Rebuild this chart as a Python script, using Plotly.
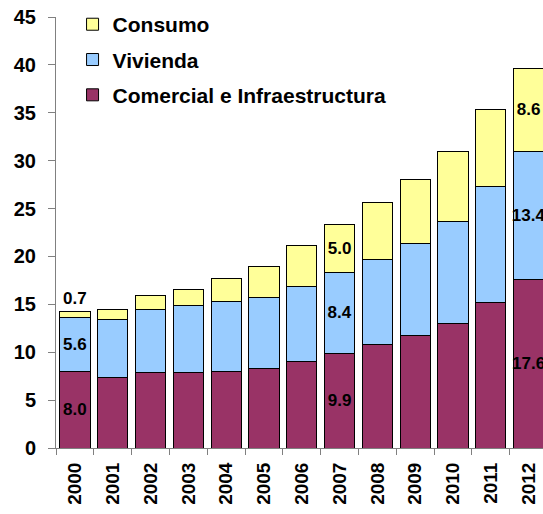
import plotly.graph_objects as go

# Years on the category axis
years = ["2000", "2001", "2002", "2003", "2004", "2005", "2006",
         "2007", "2008", "2009", "2010", "2011", "2012"]

# Stacked series values
comercial = [8.0, 7.4, 7.9, 7.9, 8.0, 8.3, 9.0, 9.9, 10.8, 11.7, 13.0, 15.2, 17.6]
vivienda = [5.6, 6.0, 6.6, 7.0, 7.3, 7.4, 7.9, 8.4, 8.9, 9.7, 10.6, 12.1, 13.4]
consumo = [0.7, 1.1, 1.4, 1.7, 2.4, 3.3, 4.2, 5.0, 5.9, 6.6, 7.4, 8.0, 8.6]

# Years whose segments carry a value label
labelled_years = ["2000", "2007", "2012"]

y_ticks = [0, 5, 10, 15, 20, 25, 30, 35, 40, 45]

FONT = "Liberation Sans, Arial, sans-serif"


def labels(values):
    return [f"{v:.1f}" if yr in labelled_years else "" for yr, v in zip(years, values)]


# (name, values, colour, legend rank) — stacked bottom to top, listed top to bottom
series = [
    ("Comercial e Infraestructura", comercial, "#993366", 3),
    ("Vivienda", vivienda, "#99CCFF", 2),
    ("Consumo", consumo, "#FFFF99", 1),
]

fig = go.Figure()
for name, vals, color, rank in series:
    text = labels(vals)
    if name == "Consumo":
        pos = ["outside" if yr == "2000" else "inside" for yr in years]
    else:
        pos = "inside"
    fig.add_trace(go.Bar(
        x=years, y=vals, name=name, legendgroup=name, legendrank=rank,
        marker=dict(color=color, line=dict(color="black", width=1)),
        text=text, textposition=pos, textangle=0,
        insidetextanchor="middle", constraintext="none",
        textfont=dict(family=FONT, size=17, color="black", weight="bold"),
        insidetextfont=dict(family=FONT, size=17, color="black", weight="bold"),
        outsidetextfont=dict(family=FONT, size=17, color="black", weight="bold"),
        cliponaxis=True,
        hoverinfo="skip",
    ))

fig.update_layout(
    width=543, height=514,
    barmode="stack", bargap=0.2,
    margin=dict(l=56, r=0, t=17, b=66),
    paper_bgcolor="white", plot_bgcolor="white",
    showlegend=True,
    legend=dict(
        x=0.034, y=1.03, xanchor="left", yanchor="top",
        traceorder="grouped", tracegroupgap=5,
        font=dict(family=FONT, size=21, color="black", weight="bold"),
        bgcolor="rgba(0,0,0,0)", itemwidth=30,
    ),
    xaxis=dict(
        type="category", range=[-0.5, 12.38],
        showline=True, linecolor="#808080", linewidth=1,
        ticks="outside", tickson="boundaries", ticklen=6, tickcolor="#808080",
        tickangle=-90, ticklabelstandoff=6,
        tickfont=dict(family=FONT, size=19, color="black", weight="bold"),
        showgrid=False, zeroline=False,
    ),
    yaxis=dict(
        range=[0, 45], tickvals=y_ticks,
        showline=True, linecolor="#808080", linewidth=1,
        ticks="outside", ticklen=7, tickcolor="#808080",
        ticklabelstandoff=8,
        tickfont=dict(family=FONT, size=20, color="black", weight="bold"),
        showgrid=False, zeroline=False,
    ),
)

fig.write_html("out.html")
